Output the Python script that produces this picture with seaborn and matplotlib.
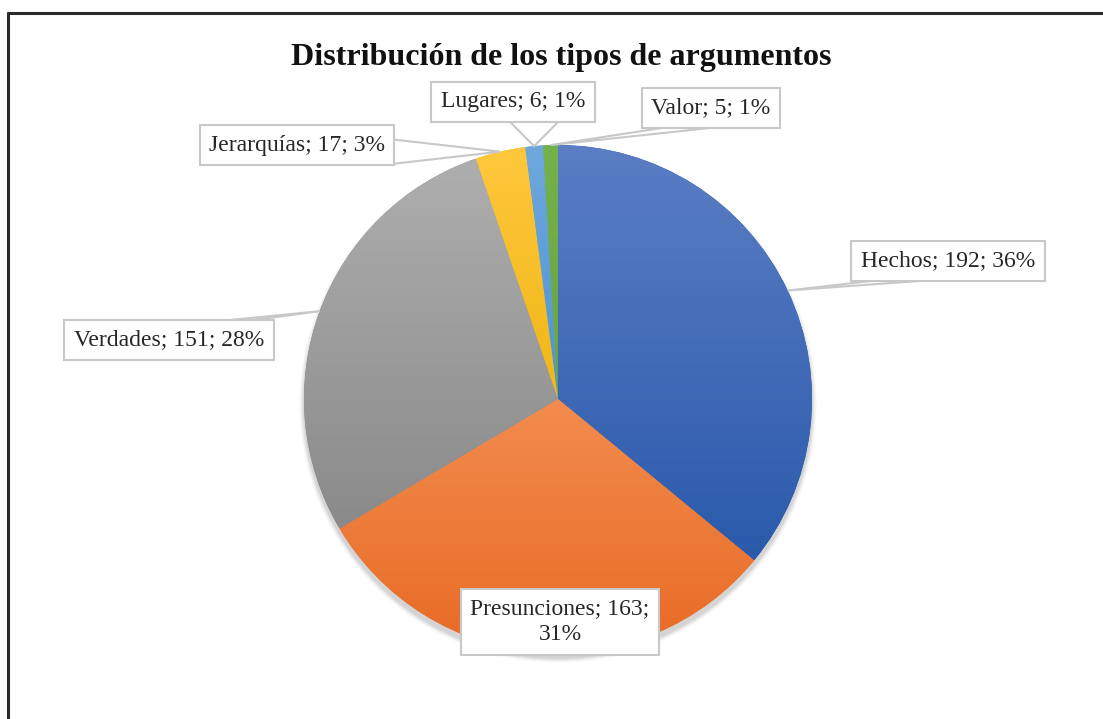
import numpy as np
import matplotlib
matplotlib.use("Agg")
import matplotlib.pyplot as plt
import seaborn as sns
from matplotlib.colors import LinearSegmentedColormap
from matplotlib.lines import Line2D

sns.set_theme(style="white")
plt.rcParams['font.family'] = ['Liberation Serif', 'DejaVu Serif']

# data
categories = ["Hechos", "Presunciones", "Verdades", "Jerarquías", "Lugares", "Valor"]
counts = [192, 163, 151, 17, 6, 5]

# (top colour, bottom colour) for the Excel-like gradient
grad_colors = [("#5B7EC4", "#2A5AAB"), ("#F28C4E", "#E86A24"), ("#AEAEAE", "#8A8A8A"),
               ("#FFC73C", "#EFB716"), ("#6EA8DD", "#5094D2"), ("#76B24C", "#66A43C")]

# label box centres, in pixels (x right, y down)
label_pos = [(948, 261), (560, 622), (169, 340), (297, 145), (513, 102), (711, 108)]

W, H = 1103, 719
cx, cy, R = 558, 399, 254

fig = plt.figure(figsize=(W / 100, H / 100), dpi=100)
ax = fig.add_axes([0, 0, 1, 1])
ax.set_aspect("equal")

# soft shadow under the pie
for k, a in zip(range(8, 0, -1), np.linspace(0.02, 0.06, 8)):
    ax.add_patch(plt.Circle((cx, H - cy - 5), R + k * 0.6, color="#707070", alpha=a, lw=0, zorder=0))

wedges, _ = ax.pie(counts, startangle=90, counterclock=False, center=(cx, H - cy), radius=R,
                   wedgeprops=dict(linewidth=0), frame=True)
ax.set_xlim(0, W)
ax.set_ylim(0, H)
ax.axis("off")

# gradient fill inside each wedge
grad = np.linspace(1, 0, 256).reshape(-1, 1)
for w, (c_top, c_bot) in zip(wedges, grad_colors):
    verts = w.get_path().vertices
    x0, x1 = verts[:, 0].min(), verts[:, 0].max()
    y0, y1 = verts[:, 1].min(), verts[:, 1].max()
    w.set_facecolor(c_bot)
    cmap = LinearSegmentedColormap.from_list("g", [c_bot, c_top])
    im = ax.imshow(grad, cmap=cmap, extent=(x0, x1, y0, y1), origin="upper",
                   aspect="auto", zorder=2, interpolation="bilinear")
    im.set_clip_path(w)

total = sum(counts)
fig.canvas.draw()
renderer = fig.canvas.get_renderer()
inv = ax.transData.inverted()

angle = 90.0
for name, val, w, (lx, ly) in zip(categories, counts, wedges, label_pos):
    pct = round(val / total * 100)
    txt = f"{name}; {val}; {pct}%"
    if name == "Presunciones":
        txt = f"{name}; {val};\n{pct}%"
    t = ax.text(lx, H - ly, txt, ha="center", va="center", fontsize=17, color="#262626",
                linespacing=1.3, zorder=6,
                bbox=dict(boxstyle="square,pad=0.4", fc="white", ec="#C8C8C8", lw=1.5))
    sweep = val / total * 360
    mid = np.deg2rad(angle - sweep / 2)
    angle -= sweep
    if name == "Presunciones":
        continue
    fig.canvas.draw()
    bb = t.get_bbox_patch().get_window_extent(renderer)
    (bx0, by0), (bx1, by1) = inv.transform([(bb.x0, bb.y0), (bb.x1, bb.y1)])
    tx, ty = cx + R * np.cos(mid), H - cy + R * np.sin(mid)
    px, py = np.clip(tx, bx0, bx1), np.clip(ty, by0, by1)
    hw = 24
    if (px in (bx0, bx1)) and by0 < py < by1:
        b1 = (px, np.clip(py - hw / 2, by0, by1))
        b2 = (px, np.clip(py + hw / 2, by0, by1))
    else:
        if px == bx0:
            b1, b2 = (bx0 + 20, py), (bx0 + 20 + hw * 2, py)
        elif px == bx1:
            b1, b2 = (bx1 - 20 - hw, py), (bx1 - 20, py)
        else:
            b1 = (np.clip(px - hw, bx0, bx1), py)
            b2 = (np.clip(px + hw, bx0, bx1), py)
    ax.plot([b1[0], tx, b2[0]], [b1[1], ty, b2[1]], color="#C8C8C8", lw=1.5, zorder=5,
            solid_joinstyle="miter")

ax.text(561, H - 57, "Distribución de los tipos de argumentos", ha="center", va="center",
        fontsize=23, fontweight="bold", color="#111111")

# chart frame (only top and left edges visible in the crop)
fig.add_artist(Line2D([8 / W, 1], [1 - 13 / H, 1 - 13 / H], color="#2a2a2a", lw=2.2))
fig.add_artist(Line2D([8 / W, 8 / W], [0, 1 - 13 / H], color="#2a2a2a", lw=2.2))

fig.savefig("out.png", dpi=100, facecolor="white")
